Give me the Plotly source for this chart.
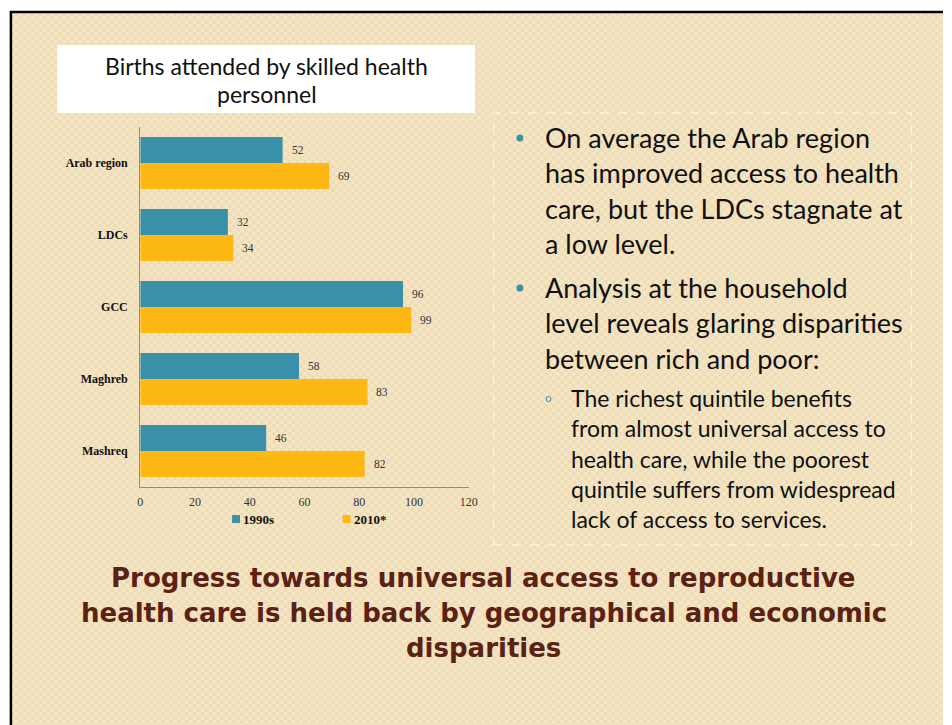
import base64
import struct
import zlib

import plotly.graph_objects as go

# ---- data ----
regions = ["Arab region", "LDCs", "GCC", "Maghreb", "Mashreq"]
val_1990s = [52, 32, 96, 58, 46]
val_2010 = [69, 34, 99, 83, 82]
series_names = ["1990s", "2010*"]
x_ticks = [0, 20, 40, 60, 80, 100, 120]

chart_title = ["Births attended by skilled health", "personnel"]
bullet_1 = ["On average the Arab region", "has improved access to health",
            "care, but the LDCs stagnate at", "a low level."]
bullet_2 = ["Analysis at the household", "level reveals glaring disparities",
            "between rich and poor:"]
sub_bullet = ["The richest quintile benefits", "from almost universal access to",
              "health care, while the poorest", "quintile suffers from widespread",
              "lack of access to services."]
headline = ["Progress towards universal access to reproductive",
            "health care is held back by geographical and economic",
            "disparities"]

# ---- style ----
W, H = 952, 725
BLUE = "#3A90A8"
GOLD = "#FDB813"
BG = "#F2E2BE"
BROWN = "#5B2214"
SERIF = "Liberation Serif, Times New Roman, serif"
SANS = "Lato, Open Sans, sans-serif"
HEAD = "DejaVu Sans, sans-serif"


def px_x(x):
    return x / W


def px_y(y):
    return 1 - y / H


def parchment_png(w, h, light=(244, 229, 198), dark=(239, 221, 182), cell=4):
    """Small checkered parchment texture as a PNG data URI."""
    rows = []
    for y in range(h):
        row = bytearray()
        for x in range(w):
            c = light if ((x // cell) + (y // cell)) % 2 == 0 else dark
            row += bytes(c)
        rows.append(b"\x00" + bytes(row))
    raw = zlib.compress(b"".join(rows), 9)

    def chunk(tag, data):
        return (struct.pack(">I", len(data)) + tag + data
                + struct.pack(">I", zlib.crc32(tag + data) & 0xFFFFFFFF))

    png = (b"\x89PNG\r\n\x1a\n"
           + chunk(b"IHDR", struct.pack(">IIBBBBB", w, h, 8, 2, 0, 0, 0))
           + chunk(b"IDAT", raw) + chunk(b"IEND", b""))
    return "data:image/png;base64," + base64.b64encode(png).decode()


fig = go.Figure()
fig.add_trace(go.Bar(y=regions, x=val_1990s, name=series_names[0], orientation="h",
                     marker=dict(color=BLUE, line=dict(width=0))))
fig.add_trace(go.Bar(y=regions, x=val_2010, name=series_names[1], orientation="h",
                     marker=dict(color=GOLD, line=dict(width=0))))

annotations = []
# value labels at the end of each bar
for vals, shift in ((val_1990s, 13), (val_2010, -13)):
    for r, v in zip(regions, vals):
        annotations.append(dict(x=v, y=r, xref="x", yref="y", text=str(v), showarrow=False,
                                xanchor="left", xshift=7, yshift=shift,
                                font=dict(family=SERIF, size=11.5, color="#333333")))

# chart title box text
for i, line in enumerate(chart_title):
    annotations.append(dict(x=px_x(267), y=px_y(66 + 28 * i), xref="paper", yref="paper",
                            text=line, showarrow=False, xanchor="center", yanchor="middle",
                            font=dict(family=SANS, size=23, color="#111111")))

# legend entries
legend_pos = [(232, BLUE), (344, GOLD)]
legend_shapes = []
for (lx, col), name in zip(legend_pos, series_names):
    legend_shapes.append(dict(type="rect", xref="paper", yref="paper",
                              x0=px_x(lx), x1=px_x(lx + 8), y0=px_y(523), y1=px_y(515),
                              fillcolor=col, line=dict(width=0)))
    annotations.append(dict(x=px_x(lx + 9), y=px_y(519), xref="paper", yref="paper",
                            text="<b>%s</b>" % name, showarrow=False, xanchor="left",
                            yanchor="middle", font=dict(family=SERIF, size=13, color="#111111")))


# right-hand bullet text
def add_lines(lines, x, y0, step, size):
    for i, line in enumerate(lines):
        annotations.append(dict(x=px_x(x), y=px_y(y0 + step * i), xref="paper", yref="paper",
                                text=line, showarrow=False, xanchor="left", yanchor="middle",
                                font=dict(family=SANS, size=size, color="#111111")))


add_lines(bullet_1, 547, 137, 35.6, 27)
add_lines(bullet_2, 547, 287, 35.6, 27)
add_lines(sub_bullet, 573, 398, 30.3, 23)

# headline
for i, line in enumerate(headline):
    annotations.append(dict(x=px_x(487), y=px_y(578 + 35 * i), xref="paper", yref="paper",
                            text="<b>%s</b>" % line, showarrow=False, xanchor="center",
                            yanchor="middle", font=dict(family=HEAD, size=26, color=BROWN)))

# slide background and frame
shapes = [
    dict(type="line", xref="paper", yref="paper", x0=px_x(8), x1=px_x(8), y0=0, y1=px_y(11),
         line=dict(color="#000000", width=2.5)),
    dict(type="line", xref="paper", yref="paper", x0=px_x(7), x1=1, y0=px_y(12), y1=px_y(12),
         line=dict(color="#000000", width=2.5)),
    # white title box
    dict(type="rect", xref="paper", yref="paper", x0=px_x(55), x1=px_x(478),
         y0=px_y(113), y1=px_y(45), fillcolor="#FFFFFF", line=dict(width=0), layer="below"),
    # dashed text frame
    dict(type="rect", xref="paper", yref="paper", x0=px_x(497), x1=px_x(920),
         y0=px_y(545), y1=px_y(113), line=dict(color="rgba(255,255,255,0.85)", width=1, dash="dash")),
    # bullets
    dict(type="circle", xref="paper", yref="paper", x0=px_x(520), x1=px_x(527),
         y0=px_y(141.5), y1=px_y(134.5), fillcolor=BLUE, line=dict(width=0)),
    dict(type="circle", xref="paper", yref="paper", x0=px_x(520), x1=px_x(527),
         y0=px_y(291.5), y1=px_y(284.5), fillcolor=BLUE, line=dict(width=0)),
    dict(type="circle", xref="paper", yref="paper", x0=px_x(550), x1=px_x(555),
         y0=px_y(401.5), y1=px_y(396.5), line=dict(color=BLUE, width=1)),
] + legend_shapes

bg_w, bg_h = W - 8, H - 12
fig.update_layout(
    width=W, height=H,
    margin=dict(l=0, r=0, t=0, b=0),
    paper_bgcolor="#FFFFFF",
    plot_bgcolor="rgba(0,0,0,0)",
    barmode="group",
    bargap=0.28,
    bargroupgap=0,
    showlegend=False,
    shapes=shapes,
    annotations=annotations,
    images=[dict(source=parchment_png(bg_w, bg_h), xref="paper", yref="paper",
                 x=px_x(8), y=px_y(12), sizex=bg_w / W, sizey=bg_h / H,
                 xanchor="left", yanchor="top", sizing="stretch", layer="below")],
    xaxis=dict(domain=[px_x(139), px_x(471.7)], range=[0, 120], tickvals=x_ticks,
               showgrid=False, zeroline=False, showline=True, linecolor="#8C8C8C", linewidth=1.2,
               ticks="", ticklabelstandoff=3,
               tickfont=dict(family=SERIF, size=12, color="#333333"), fixedrange=True),
    yaxis=dict(domain=[px_y(487), px_y(127)], categoryorder="array", categoryarray=regions,
               autorange="reversed", showgrid=False, zeroline=False, showline=True,
               linecolor="#8C8C8C", linewidth=1.2, ticks="", ticklabelstandoff=9,
               tickvals=regions, ticktext=["<b>%s</b>" % r for r in regions],
               tickfont=dict(family=SERIF, size=12, color="#111111"), fixedrange=True),
)

fig.write_html("out.html")
